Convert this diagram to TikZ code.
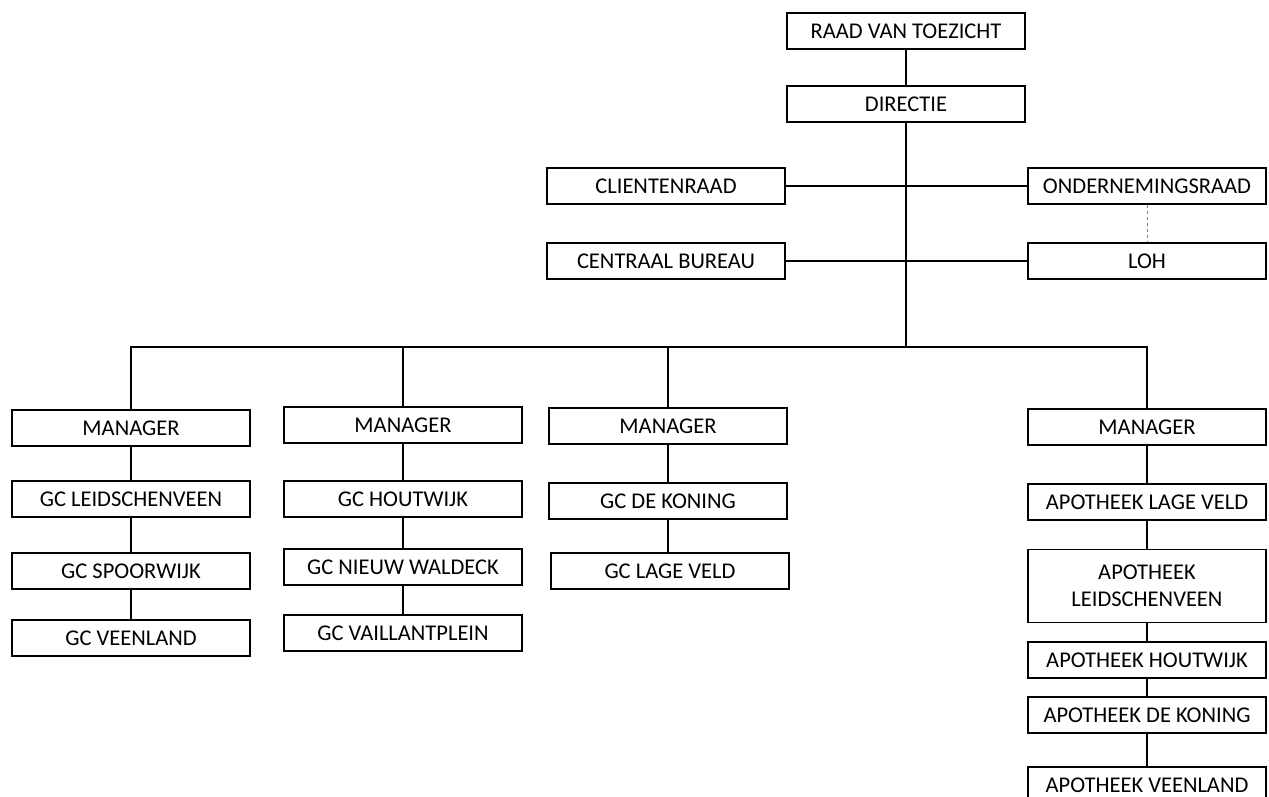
\documentclass[tikz,border=0pt]{standalone}
\usepackage{fontspec}
\setmainfont{Carlito}
\usetikzlibrary{calc}
\usetikzlibrary{positioning}

\begin{document}
\begin{tikzpicture}[x=1pt, y=-1pt,
    unit/.style={draw, line width=1.3pt, minimum width=238pt, minimum height=36pt,
      inner sep=0pt, align=center, font=\fontsize{22.5}{27}\selectfont},
    link/.style={line width=1.2pt},
    trunk/.style={line width=1.8pt}]

    \useasboundingbox (0, 0) rectangle (1269, 797);

    % top of the tree
    \node [unit] (rvt) at (906, 31) {RAAD VAN TOEZICHT};
    \node [unit] (dir) at (906, 104) {DIRECTIE};
    \node [unit] (cr) at (666, 186) {CLIENTENRAAD};
    \node [unit] (or) at (1147, 186) {ONDERNEMINGSRAAD};
    \node [unit] (cb) at (666, 261) {CENTRAAL BUREAU};
    \node [unit] (loh) at (1147, 261) {LOH};
    \coordinate (bus) at (906, 347);

    \draw [link] (rvt) -- (dir);
    \draw [trunk] (dir) -- (bus);
    \draw [link] (cr) -- (or);
    \draw [link] (cb) -- (loh);
    \draw [thin, dashed, gray] (or) -- (loh);

    % managers
    \node [unit] (m1) at (131, 428) {MANAGER};
    \node [unit] (m2) at (403, 425) {MANAGER};
    \node [unit] (m3) at (668, 426) {MANAGER};
    \node [unit] (m4) at (1147, 427) {MANAGER};
    \draw [trunk] (m1.north) |- (bus);
    \draw [link] (m4.north) |- (bus);
    \foreach \m in {m2, m3} {
      \draw [link] (\m.north) -- (\m.north |- bus);
    }

    % first column
    \node [unit] (gc11) at (131, 499) {GC LEIDSCHENVEEN};
    \node [unit] (gc12) at (131, 571) {GC SPOORWIJK};
    \node [unit] (gc13) at (131, 638) {GC VEENLAND};
    % second column
    \node [unit] (gc21) at (403, 499) {GC HOUTWIJK};
    \node [unit] (gc22) at (403, 567) {GC NIEUW WALDECK};
    \node [unit] (gc23) at (403, 633) {GC VAILLANTPLEIN};
    % third column
    \node [unit] (gc31) at (668, 501) {GC DE KONING};
    \node [unit] (gc32) at (670, 571) {GC LAGE VELD};
    % fourth column
    \node [unit] (ap1) at (1147, 502) {APOTHEEK LAGE VELD};
    \node [unit, minimum height=73pt] (ap2) at (1147, 586) {APOTHEEK\\LEIDSCHENVEEN};
    \node [unit] (ap3) at (1147, 660) {APOTHEEK HOUTWIJK};
    \node [unit] (ap4) at (1147, 715) {APOTHEEK DE KONING};
    \node [unit] (ap5) at (1147, 785) {APOTHEEK VEENLAND};

    \foreach \a/\b in {m1/gc11, gc11/gc12, gc12/gc13, m2/gc21, gc21/gc22,
      gc22/gc23, m3/gc31, gc31/gc32, m4/ap1, ap1/ap2, ap2/ap3, ap3/ap4, ap4/ap5} {
      \draw [link] (\a.south) -- (\a.south |- \b.north); % column link
    }

  \end{tikzpicture}
\end{document}
